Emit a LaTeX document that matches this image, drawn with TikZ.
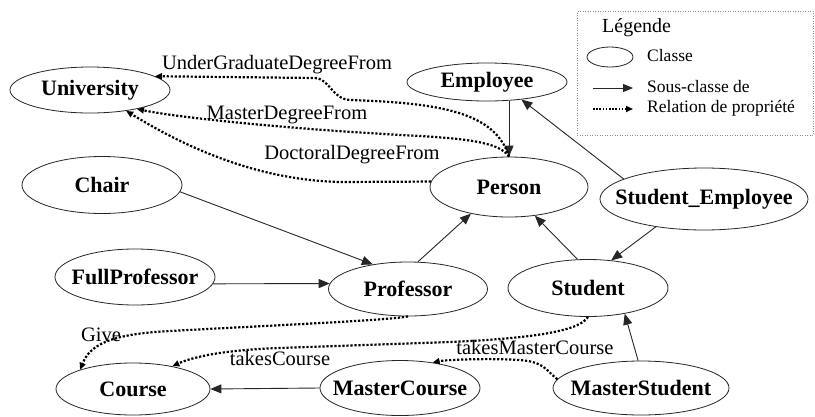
\documentclass[tikz,border=0pt]{standalone}
\usepackage{fontspec}
\setmainfont{Liberation Serif}
\usetikzlibrary{shapes.geometric,arrows.meta,calc}
\newcommand\zb[1]{\makebox[0pt]{#1}}
\begin{document}
\begin{tikzpicture}[x=1pt,y=-1pt,
  cls/.style={draw=black!85,line width=0.8pt,ellipse,inner sep=0pt,
    font=\bfseries\fontsize{22}{24}\selectfont},
  sub/.style={draw=black!85,line width=0.9pt,-{Triangle[length=11pt,width=9pt]}},
  prop/.style={draw=black,line width=2.2pt,dash pattern=on 2.2pt off 1.8pt,
    -{Triangle[length=7pt,width=6pt]}},
  lbl/.style={inner sep=0pt,font=\fontsize{20.5}{22}\selectfont},
  leg/.style={inner sep=0pt,anchor=west,font=\fontsize{17.5}{19}\selectfont}]
\useasboundingbox[fill=white] (0,0) rectangle (815,416);
% classes
\node[cls,minimum width=160pt,minimum height=46pt] (University) at (90,90) {\zb{University}};
\node[cls,minimum width=160pt,minimum height=38pt] (Employee) at (487,82) {\zb{Employee}};
\node[cls,minimum width=158pt,minimum height=60pt] (Person) at (509,187) {\zb{Person}};
\node[cls,minimum width=208pt,minimum height=62pt] (SE) at (704,199) {\zb{Student\_Employee}};
\node[cls,minimum width=160pt,minimum height=57pt] (Chair) at (102,185) {\zb{Chair}};
\node[cls,minimum width=160pt,minimum height=56pt] (FullProfessor) at (135,277) {\zb{FullProfessor}};
\node[cls,minimum width=159pt,minimum height=54pt] (Professor) at (408,289) {\zb{Professor}};
\node[cls,minimum width=160pt,minimum height=57pt] (Student) at (588,288) {\zb{Student}};
\node[cls,minimum width=154pt,minimum height=52pt] (Course) at (133,389) {\zb{Course}};
\node[cls,minimum width=160pt,minimum height=55pt] (MasterCourse) at (400,388) {\zb{MasterCourse}};
\node[cls,minimum width=176pt,minimum height=54pt] (MasterStudent) at (641,388) {\zb{MasterStudent}};
% subclass edges
\draw[sub] (Chair.-5) -- (Professor.145);
\draw[sub] (FullProfessor.-5) -- (Professor.176);
\draw[sub] (Professor.70) -- (Person.-145);
\draw[sub] (Student.110) -- (Person.-48);
\draw[sub] (SE.-150) -- (Student.50);
\draw[sub] (SE.166) -- (Employee.-27);
\draw[sub] (Person.north |- Employee.south) -- (Person.north);
\draw[sub] (MasterStudent.96) -- (Student.-35);
\draw[sub] (MasterCourse.west) -- (Course.east);
% property edges
\draw[prop] (Person.north) .. controls (495,112) and (440,103) .. (350,100)
  .. controls (332,99) and (330,79) .. (315,78) -- (University.12);
\draw[prop] (Person.north) .. controls (500,143) and (470,139) .. (420,136)
  .. controls (300,130) and (180,118) .. (University.-22);
\draw[prop] (Person.176) -- (340,182) .. controls (260,180) and (190,150) .. (University.-30);
\draw[prop] (Professor.south) .. controls (390,320) and (300,324) .. (170,331)
  .. controls (110,334) and (90,345) .. (Course.160);
\draw[prop] (Student.south) .. controls (580,330) and (540,338) .. (450,342)
  -- (280,348) .. controls (220,350) and (190,358) .. (Course.30);
\draw[prop] (MasterStudent.174) .. controls (548,372) and (545,364) .. (528,361)
  .. controls (510,358) and (450,359) .. (MasterCourse.38);
% labels
\node[lbl] (lUG) at (277,65) {UnderGraduateDegreeFrom};
\node[lbl] (lMD) at (287,115) {MasterDegreeFrom};
\node[lbl] (lDD) at (352,155) {DoctoralDegreeFrom};
\node[lbl] (lGive) at (101,335) {Give};
\node[lbl] (lTC) at (280,358) {takesCourse};
\node[lbl] (lTMC) at (535,347) {takesMasterCourse};
% legend
\node[draw=black!45,line width=0.5pt,dotted,minimum width=236pt,minimum height=124pt,inner sep=0pt] (legbox) at (695,73) {};
\node[leg,font=\fontsize{20}{22}\selectfont] (legT) at (602,28) {Légende};
\node[ellipse,draw=black!85,line width=0.8pt,minimum width=46pt,minimum height=20pt,inner sep=0pt] (legE) at (610,57) {};
\node[leg] (legC) at (647,56) {Classe};
\coordinate (a1) at (593,88);
\coordinate (a2) at (633,88);
\draw[sub,line width=1pt,-{Triangle[length=10pt,width=8pt]}] (a1) -- (a2);
\node[leg] (legS) at (647,87) {Sous-classe de};
\coordinate (b1) at (593,109);
\coordinate (b2) at (633,109);
\draw[prop,line width=1.6pt,dash pattern=on 1.6pt off 1.6pt] (b1) -- (b2);
\node[leg] (legR) at (647,108) {Relation de propriété};
\end{tikzpicture}
\end{document}
